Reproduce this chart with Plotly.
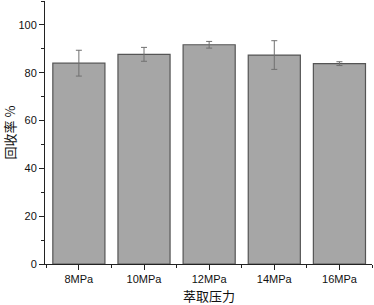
import plotly.graph_objects as go

categories = ["8MPa", "10MPa", "12MPa", "14MPa", "16MPa"]
positions = [1, 2, 3, 4, 5]
recovery = [84.0, 87.7, 91.7, 87.4, 83.8]
errors = [5.4, 2.9, 1.4, 6.0, 0.8]
y_ticks = [0, 20, 40, 60, 80, 100]

fig = go.Figure()
fig.add_trace(go.Bar(
    x=positions, y=recovery, width=0.8,
    marker=dict(color="#a6a6a6", line=dict(color="#555555", width=1.2)),
    error_y=dict(type="data", array=errors, visible=True, color="#707070",
                 thickness=1, width=3),
))

font_cn = "Noto Sans CJK SC"
fig.update_layout(
    width=374, height=305,
    margin=dict(l=45, r=2, t=1, b=41),
    plot_bgcolor="white", paper_bgcolor="white",
    showlegend=False,
    font=dict(family="Liberation Sans, Arial", size=11, color="#111111"),
    xaxis=dict(
        range=[0.48, 5.5], tickvals=positions, ticktext=categories,
        showline=True, linecolor="#222222", linewidth=1,
        ticks="outside", ticklen=5, tickcolor="#222222",
        minor=dict(tick0=0.5, dtick=1, ticks="outside", ticklen=3, tickcolor="#222222"),
        showgrid=False, zeroline=False, automargin=False,
    ),
    yaxis=dict(
        range=[0, 110], tickvals=y_ticks,
        showline=True, linecolor="#222222", linewidth=1,
        ticks="outside", ticklen=5, tickcolor="#222222",
        minor=dict(dtick=10, tick0=0, ticks="outside", ticklen=3, tickcolor="#222222"),
        showgrid=False, zeroline=False, automargin=False,
    ),
    annotations=[
        dict(text="萃取压力", xref="paper", yref="paper", x=0.5, y=0,
             yshift=-31, yanchor="middle", xanchor="center", showarrow=False,
             font=dict(family=font_cn, size=13, color="#111111")),
        dict(text="回收率 %", xref="paper", yref="paper", x=0, y=0.5,
             xshift=-36, xanchor="center", yanchor="middle", textangle=-90,
             showarrow=False, font=dict(family=font_cn, size=13, color="#111111")),
    ],
)
fig.write_html("out.html", config={"displayModeBar": False},
               post_script="document.body.style.margin='0';document.body.style.overflow='hidden';")
